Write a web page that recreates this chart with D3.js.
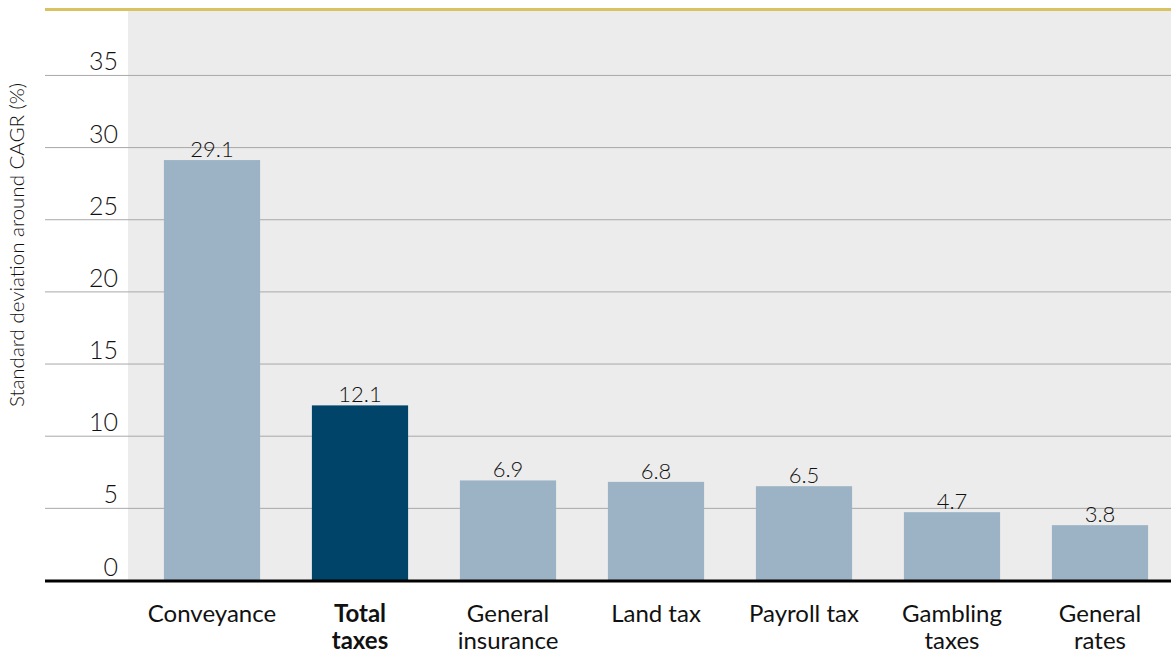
<!DOCTYPE html>
<html>
<head>
<meta charset="utf-8">
<script src="https://cdn.jsdelivr.net/npm/d3@7"></script>
<style>
  body { margin: 0; background: #fff; }
  svg text { font-family: Lato, "Open Sans", sans-serif; fill: #111; }
</style>
</head>
<body>
<svg width="1171" height="653"></svg>
<script>

const categories  = ['Conveyance', 'Total taxes', 'General insurance', 'Land tax', 'Payroll tax', 'Gambling taxes', 'General rates'];
const labelLines  = [['Conveyance'], ['Total', 'taxes'], ['General', 'insurance'], ['Land tax'], ['Payroll tax'], ['Gambling', 'taxes'], ['General', 'rates']];
const values      = [29.1, 12.1, 6.9, 6.8, 6.5, 4.7, 3.8];
const highlighted = ['Total taxes'];
const yTicks      = [0, 5, 10, 15, 20, 25, 30, 35];
const yLabel      = 'Standard deviation around CAGR (%)';

const data = categories.map((c, i) => ({ cat: c, value: values[i], lines: labelLines[i] }));

const svg = d3.select('svg');
const width = +svg.attr('width');

const marginLeft = 45, panelLeft = 128, plotTop = 10, plotBottom = 580;

const x = d3.scaleBand()
  .domain(categories)
  .range([138, 1174])
  .paddingInner(0.35)
  .paddingOuter(0.175);

const y = d3.scaleLinear()
  .domain([0, 39.5])
  .range([plotBottom, plotTop]);

// panel
svg.append('rect')
  .attr('x', panelLeft).attr('y', plotTop)
  .attr('width', width - panelLeft).attr('height', plotBottom - plotTop)
  .attr('fill', '#ececec');

// gold top rule
svg.append('line')
  .attr('x1', marginLeft).attr('x2', width)
  .attr('y1', plotTop - 0.5).attr('y2', plotTop - 0.5)
  .attr('stroke', '#d8c261').attr('stroke-width', 3);

// y axis with gridlines
const yAxis = d3.axisLeft(y)
  .tickValues(yTicks)
  .tickSize(-(width - marginLeft))
  .tickFormat(d3.format('d'));

const yG = svg.append('g')
  .attr('transform', `translate(${marginLeft},0)`)
  .call(yAxis);

yG.select('.domain').remove();
yG.selectAll('.tick line')
  .attr('stroke', '#a8a8a8')
  .attr('stroke-width', 1);
yG.selectAll('.tick text')
  .attr('x', 73)
  .attr('dy', -5)
  .attr('text-anchor', 'end')
  .style('font-size', '25px')
  .style('font-weight', 300)
  .style('fill', '#111');

// bars
svg.append('g').selectAll('rect')
  .data(data)
  .enter().append('rect')
    .attr('x', d => x(d.cat))
    .attr('y', d => y(d.value))
    .attr('width', x.bandwidth())
    .attr('height', d => y(0) - y(d.value))
    .attr('fill', d => highlighted.includes(d.cat) ? '#00446a' : '#9bb3c5');

// value labels
svg.append('g').selectAll('text')
  .data(data)
  .enter().append('text')
    .attr('x', d => x(d.cat) + x.bandwidth() / 2)
    .attr('y', d => y(d.value) - 3)
    .attr('text-anchor', 'middle')
    .style('font-size', '22px')
    .style('font-weight', 300)
    .text(d => d.value.toFixed(1));

// zero axis line
svg.append('line')
  .attr('x1', marginLeft).attr('x2', width)
  .attr('y1', y(0) + 1).attr('y2', y(0) + 1)
  .attr('stroke', '#000').attr('stroke-width', 3);

// category labels
const xG = svg.append('g');
data.forEach(d => {
  const cx = x(d.cat) + x.bandwidth() / 2;
  const t = xG.append('text')
    .attr('x', cx)
    .attr('y', 622)
    .attr('text-anchor', 'middle')
    .style('font-size', '24px')
    .style('font-weight', highlighted.includes(d.cat) ? 700 : 400);
  d.lines.forEach((ln, i) => {
    t.append('tspan')
      .attr('x', cx)
      .attr('dy', i === 0 ? 0 : 27)
      .text(ln);
  });
});

// y axis title
svg.append('text')
  .attr('transform', `translate(24,245) rotate(-90)`)
  .attr('text-anchor', 'middle')
  .style('font-size', '20.5px')
  .style('font-weight', 300)
  .text(yLabel);

</script>
</body>
</html>
